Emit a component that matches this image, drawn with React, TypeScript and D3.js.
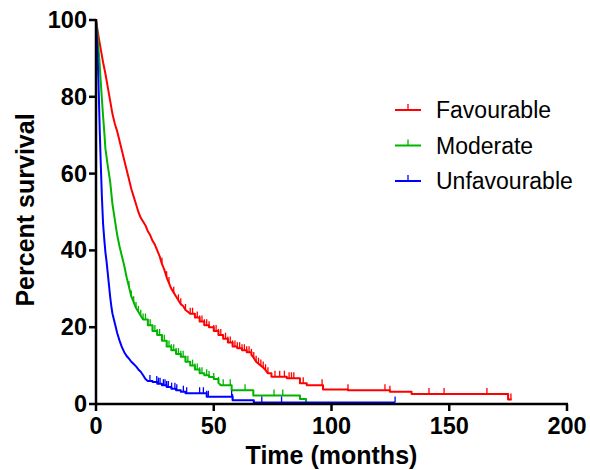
import React from "react";
import * as d3 from "d3";

const xTicks = [0, 50, 100, 150, 200];
const yTicks = [0, 20, 40, 60, 80, 100];

const favourable: [number, number][] = [
  [0, 100], [1, 96], [2, 92.5], [3, 89], [4, 86], [5, 82.5], [6, 79], [7, 75.5], [8, 73], [9, 71],
  [10, 68.5], [11, 66], [12, 63.5], [13, 61], [14, 58.5], [15, 56], [16, 54], [17, 52], [18, 50],
  [19, 48.5], [20, 47.5], [21, 46.5], [22, 45], [23, 44], [24, 42.5], [25, 41.5], [26, 40], [27, 38.5],
  [28, 36.5], [29, 35], [30, 33], [31, 31.5], [32, 30], [33, 29], [34, 28], [35, 27], [36, 26],
  [37, 25.5], [38, 24.5], [39, 24], [40, 23.5], [42, 22.5], [44, 21.5], [46, 20.5], [48, 20], [50, 19],
  [52, 18], [54, 17], [56, 16], [58, 15], [60, 14.5], [62, 14], [64, 13.5], [66, 12.8], [67, 12],
  [68, 11], [69, 10.5], [70, 10], [71, 9.5], [72, 8.8], [73, 8], [74.5, 7.1], [81, 6.7], [86.6, 5.4],
  [89.5, 4.9], [96.4, 3.8], [107, 3.6], [124.8, 3.2], [134, 2.6], [175, 1.2], [176.5, 1.2],
];
const favourableCensored = [
  28, 30, 31, 33, 35, 36, 38, 40, 41, 43, 44, 45, 46, 47, 48, 50, 51, 52, 53, 55, 56, 57, 58, 59, 60,
  61, 62, 63, 64, 65, 66, 67, 68, 69, 70, 71, 72, 73, 76, 78, 80, 82, 83, 84, 88, 96, 107, 122.7, 124.8,
  141.4, 147.8, 166, 175, 176.2,
];

const moderate: [number, number][] = [
  [0, 100], [0.5, 97], [1, 93], [1.5, 89], [2, 84], [2.5, 79.5], [3, 75], [3.5, 71], [4, 66.5], [5, 62],
  [6, 58], [7, 52], [8, 48], [9, 44], [10, 41], [11, 38.5], [12, 36], [13, 33], [14, 30.5], [15, 28],
  [16, 26.5], [17, 25], [18, 24], [19, 23], [20, 22], [22, 20.5], [24, 19], [26, 18], [28, 16.5],
  [30, 15], [32, 14], [34, 13], [36, 12.3], [38, 11], [40, 10], [42, 9], [44, 8], [46, 7.5], [48, 7],
  [50, 6.5], [52, 5.5], [53, 4.9], [57.6, 3.6], [66.8, 2.2], [86.6, 1.3], [89.2, 0],
];
const moderateCensored = [
  14, 15, 16, 17, 18, 19, 20, 21, 22, 23, 24, 25, 26, 27, 28, 29, 30, 31, 32, 33, 34, 35, 36, 37, 38,
  39, 41, 42, 43, 44, 45, 47, 48, 50, 52, 54, 57, 63.3, 75.6, 79.3,
];

const unfavourable: [number, number][] = [
  [0, 100], [0.3, 96], [0.6, 92], [1, 85], [1.3, 78], [1.6, 71], [2, 63], [2.5, 54], [3, 47], [3.5, 43],
  [4, 39.5], [4.5, 37], [5, 34], [5.5, 31], [6, 28], [6.5, 25.5], [7, 23.5], [8, 21], [9, 18.5],
  [10, 16.5], [11, 14.8], [12, 13.5], [13, 12.5], [14, 11.8], [15, 11], [16, 10.4], [17, 9.8], [18, 9],
  [19, 8.4], [20, 7.5], [21, 6.5], [22, 6], [24, 5.7], [26, 5.3], [28, 4.9], [30, 4.4], [32, 4],
  [34, 3.6], [36, 3.2], [38, 2.8], [47, 1.9], [58, 1.0], [67, 0.4], [127, 0.4],
];
const unfavourableCensored = [
  22.9, 25.8, 26.5, 27.2, 28.6, 29.3, 30, 30.7, 32.1, 33.5, 34.3, 37.1, 38.5, 44, 45.6, 47, 47.7, 57.6,
  58, 70.4, 78.8, 127,
];

const seriesNames = ["Favourable", "Moderate", "Unfavourable"];
const seriesColors = ["#ff0000", "#00b400", "#0000ff"];

const W = 590;
const H = 470;
const left = 96;
const right = 567;
const top = 20;
const bottom = 404;

function survivalAt(data: [number, number][], t: number) {
  let s = data[0][1];
  for (const [dt, ds] of data) {
    if (dt <= t) s = ds;
    else break;
  }
  return s;
}

// dense early events are drawn as a continuous trace; sparse later events as KM steps
function kmPath(data: [number, number][], x: d3.ScaleLinear<number, number>, y: d3.ScaleLinear<number, number>) {
  const p = d3.path();
  p.moveTo(x(data[0][0]), y(data[0][1]));
  for (let i = 1; i < data.length; i++) {
    const [t0, s0] = data[i - 1];
    const [t1, s1] = data[i];
    if (t1 - t0 <= 1.01) {
      p.lineTo(x(t1), y(s1));
    } else {
      p.lineTo(x(t1), y(s0));
      p.lineTo(x(t1), y(s1));
    }
  }
  return p.toString();
}

export default function App() {
  const x = d3.scaleLinear().domain([0, 200]).range([left, right]);
  const y = d3.scaleLinear().domain([0, 100]).range([bottom, top]);

  const series = [
    { data: favourable, cens: favourableCensored },
    { data: moderate, cens: moderateCensored },
    { data: unfavourable, cens: unfavourableCensored },
  ];
  const font = "'Liberation Sans', Arial, sans-serif";

  return (
    <div style={{ position: "fixed", left: 0, top: 0 }}>
      <svg width={W} height={H} style={{ display: "block", background: "#fff" }}>
        {series.map((s, i) => (
          <g key={i}>
            <path d={kmPath(s.data, x, y)} fill="none" stroke={seriesColors[i]} strokeWidth={2} strokeLinejoin="round" />
            {s.cens.map((t, j) => {
              const yy = y(survivalAt(s.data, t));
              return (
                <line key={j} x1={x(t)} x2={x(t)} y1={yy} y2={yy - 6} stroke={seriesColors[i]} strokeWidth={1.3} />
              );
            })}
          </g>
        ))}
        {/* axes */}
        <line x1={left} x2={left} y1={top - 1} y2={bottom + 1} stroke="#000" strokeWidth={2.5} />
        <line x1={left - 1} x2={right + 1} y1={bottom} y2={bottom} stroke="#000" strokeWidth={2.5} />
        {yTicks.map((v) => (
          <g key={"y" + v}>
            <line x1={left - 7} x2={left} y1={y(v)} y2={y(v)} stroke="#000" strokeWidth={2.5} />
            <text
              x={left - 9}
              y={y(v)}
              textAnchor="end"
              dominantBaseline="central"
              fontFamily={font}
              fontWeight="bold"
              fontSize={23.5}
            >
              {v}
            </text>
          </g>
        ))}
        {xTicks.map((v) => (
          <g key={"x" + v}>
            <line x1={x(v)} x2={x(v)} y1={bottom} y2={bottom + 7} stroke="#000" strokeWidth={2.5} />
            <text x={x(v)} y={434} textAnchor="middle" fontFamily={font} fontWeight="bold" fontSize={23.5}>
              {v}
            </text>
          </g>
        ))}
        <text x={(left + right) / 2} y={464} textAnchor="middle" fontFamily={font} fontWeight="bold" fontSize={25}>
          Time (months)
        </text>
        <text
          transform={`translate(34,210) rotate(-90)`}
          textAnchor="middle"
          fontFamily={font}
          fontWeight="bold"
          fontSize={25}
        >
          Percent survival
        </text>
        {/* legend */}
        {seriesNames.map((n, i) => {
          const ly = 110 + i * 35.5;
          return (
            <g key={n}>
              <line x1={395} x2={421} y1={ly} y2={ly} stroke={seriesColors[i]} strokeWidth={2} />
              <line x1={408} x2={408} y1={ly} y2={ly - 6} stroke={seriesColors[i]} strokeWidth={1.3} />
              <text x={436} y={ly} dominantBaseline="central" fontFamily={font} fontSize={23}>
                {n}
              </text>
            </g>
          );
        })}
      </svg>
    </div>
  );
}
